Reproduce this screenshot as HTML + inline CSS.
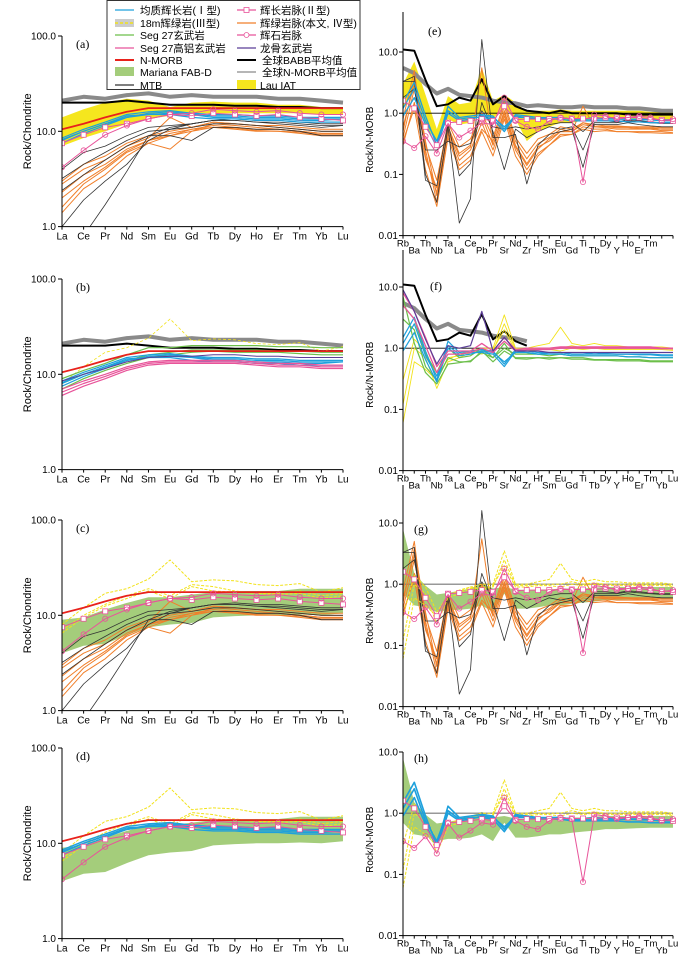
<!DOCTYPE html>
<html><head><meta charset="utf-8">
<style>
html,body{margin:0;padding:0;background:#fff;}
svg{display:block;font-family:"Liberation Sans","Noto Sans CJK SC",sans-serif;}
</style></head>
<body>
<svg id="fig" width="700" height="956" viewBox="0 0 700 956" xmlns="http://www.w3.org/2000/svg"></svg>
<script>
const reeLabels=["La","Ce","Pr","Nd","Sm","Eu","Gd","Tb","Dy","Ho","Er","Tm","Yb","Lu"];
const spLabels=["Rb","Ba","Th","Nb","Ta","La","Ce","Pb","Pr","Sr","Nd","Zr","Hf","Sm","Eu","Gd","Ti","Tb","Dy","Y","Ho","Er","Tm","Yb","Lu"];
const leftTicks=[100,10,1];
const leftTickLabels=["100.0","10.0","1.0"];
const rightTicks=[10,1,0.1,0.01];
const rightTickLabels=["10.0","1.0","0.1","0.01"];

// REE chondrite-normalised
const ree_nmorbAvg=[21,23,22,24,25,23,24,23,23,23,22,22,21,20];
const ree_babb=[20,20,20,21,20,19,19,19,18.5,18.5,18,18,17.5,17.5];
const ree_nmorb=[10.5,12,14,16,17.5,17.5,17.5,17.5,17.5,17.5,17.5,17.5,17.5,17.5];
const ree_lauHi=[14,17,20,22,21,18,20,20.5,20,20,19,19,18,18];
const ree_lauLo=[7,8.5,10,12,13.5,14.5,15.5,15.5,15.5,15.5,15.5,15.5,15,15];
const ree_marHi=[9,9.5,11.5,13.5,15.5,15.5,16.5,17.5,18,18,18,19,19,19];
const ree_marLo=[4,4.8,5,6.2,7.5,8,8.3,9.5,9.8,10,10,10.2,10,10.5];
const ree_gab1=[8.5,10.5,12.5,15,16,16.5,15.5,15,15,14.5,14.5,14,14,14];
const ree_gab2=[8,10,12,14.5,15,15.5,15,14,14,13.5,13.5,13,13,13.5];
const ree_gab3=[7.5,9.5,11.5,14,15,15,14,13.5,13.5,13,13,12.5,12.5,12.5];
const ree_gab4=[8.2,10,12,14,15.5,16,15.2,14.5,14.5,14,14,13.5,13.5,13.5];
const ree_gabDyke=[7.5,9.2,11,12,13.5,15,14.5,15.5,15,14.5,15,14,13.5,13];
const ree_pyrDyke=[4.2,6.3,9.2,11.5,13.5,15,15.5,17,16.5,16,16.5,15.5,15,15];
const ree_dia1=[3,4.5,5.5,7.5,9,10,11,12.5,12,11.5,11.5,11,10.5,10.5];
const ree_dia2=[2.3,3.5,4.5,6.5,8,9.5,10.5,11.5,11,10.5,10.5,10,9.5,9.5];
const ree_dia3=[1.6,2.8,4,6,7.5,9,10,11,10.5,10,10,9.5,9,9];
const ree_dia4=[1.4,2.5,3.5,5.5,7.5,6.5,10,12,11.5,11,10.5,10,9.5,9.5];
const ree_dia5=[2.8,4,5,7,8.5,14,11,12.5,12,11.5,11,10.5,10,10];
const ree_dia6=[2,3,4.2,6.2,8,9,10.5,11,10.8,10.2,10,9.8,9.2,9.2];
const ree_mtb1=[4,6,7,9,11,11.5,12,13,13,12.5,12,11.5,11,11.5];
const ree_mtb2=[3.2,4.5,6,8,10,10.5,11,12,12,11.5,11,10.5,10,10];
const ree_mtb3=[2.4,3.5,5,7,9,9,8,11,11,10.5,10.5,10,9,9];
const ree_mtb4=[1,1.9,3,4.5,8,10.5,12,13,13.5,13,13,12.5,12,12];
const ree_mtb5=[0.5,0.8,1.7,3.8,9,11,12,13,13,12.5,12.5,12,11.5,11.5];
const ree_seg1=[9,11,13,16,19,19,20,20,20,20,19.5,19.5,19,19];
const ree_seg2=[8,10,12,14,16,17,18,18,18,18,17.5,17.5,17,17];
const ree_seg3=[7,9,11,13,15,16,17,17.5,17,17,17,16.5,16,16];
const ree_hal1=[7,8.5,10,12,13.5,14,14,14,14,13.5,13,13,12.5,12.5];
const ree_hal2=[6,7.5,9,11,12.5,13,13,13,13,12.5,12,12,11.5,11.5];
const ree_hal3=[6.5,8,9.5,11.5,13,13.5,13.5,13.5,13.5,13,12.5,12.5,12,12];
const ree_lg=[8.5,10,11.5,13.5,15,15.5,15.5,16,16,15.5,15.5,15,15,15];
const ree_yelA=[8,12,17,19,24,38,22.5,23.5,23,21,20.5,21.5,17.5,19.5];
const ree_yelB=[7,10,13,16,19,16,21,20,18,17,17,18,16,17];
const ree_yelC=[6.5,9.5,12.5,15,18,15,20,18,17.5,17,16.5,17,15,16];

// N-MORB normalised spider
const sp_nmorbAvg=[5.5,4.5,3,2.1,2.5,2,1.9,1.8,1.6,1.5,1.45,1.3,1.35,1.3,1.25,1.25,1.3,1.25,1.25,1.25,1.2,1.2,1.15,1.1,1.1];
const sp_babb=[11,10.5,3.5,1.3,1.4,1.8,1.6,3.6,1.4,1.9,1.3,1.1,1.05,1.0,1.1,1.0,1.0,1.0,1.0,1.0,0.95,0.95,0.95,0.95,0.95];
const sp_lauHi=[3,7,2,0.55,1.9,1.4,1.5,5.5,1.6,2,1.5,1.05,1.1,1.1,1.15,1.1,1.1,1.1,1.1,1.1,1.1,1.1,1.05,1.05,1.05];
const sp_lauLo=[1.2,2.5,0.6,0.35,0.8,0.65,0.7,1.1,0.8,1.3,0.8,0.35,0.5,0.6,0.7,0.7,0.75,0.8,0.8,0.8,0.8,0.8,0.8,0.8,0.8];
const sp_marHi=[8,1.5,0.95,0.68,0.72,0.78,0.85,1.05,0.85,0.9,0.82,0.8,0.82,0.82,0.85,0.85,0.85,0.88,0.9,0.9,0.9,0.9,0.9,0.9,0.9];
const sp_marLo=[0.7,0.45,0.42,0.35,0.38,0.38,0.4,0.45,0.35,0.7,0.4,0.4,0.42,0.45,0.45,0.48,0.5,0.52,0.55,0.55,0.56,0.57,0.58,0.58,0.58];
const sp_gab1=[1.5,3.2,0.9,0.3,1.3,0.85,0.9,0.95,0.9,0.55,0.95,0.9,0.85,0.85,0.85,0.8,0.8,0.8,0.8,0.8,0.8,0.78,0.78,0.75,0.75];
const sp_gab2=[1.2,2.5,0.75,0.35,1.1,0.8,0.85,0.85,0.8,0.5,0.9,0.85,0.8,0.8,0.8,0.75,0.75,0.75,0.75,0.75,0.72,0.72,0.7,0.7,0.7];
const sp_gab3=[0.9,1.8,0.65,0.28,1.0,0.75,0.8,0.9,0.85,0.6,0.85,0.85,0.8,0.85,0.85,0.8,0.8,0.85,0.82,0.8,0.8,0.8,0.8,0.78,0.78];
const sp_gabDyke=[1.6,1.2,0.6,0.3,0.7,0.72,0.75,0.8,0.75,1.3,0.78,0.8,0.8,0.8,0.82,0.82,0.82,0.82,0.85,0.85,0.85,0.85,0.8,0.78,0.75];
const sp_pyr=[0.35,0.27,0.42,0.22,0.68,0.4,0.52,0.7,0.65,1.8,0.75,0.6,0.55,0.75,0.85,0.8,0.075,0.95,0.9,0.8,0.85,0.9,0.85,0.75,0.8];
const sp_dia1=[0.5,3.8,0.35,0.045,0.6,0.22,0.3,0.9,0.3,1.1,0.3,0.15,0.28,0.35,0.5,0.5,0.7,0.6,0.58,0.55,0.55,0.55,0.55,0.52,0.52];
const sp_dia2=[0.4,2.5,0.25,0.035,0.5,0.17,0.25,0.7,0.25,0.9,0.25,0.12,0.22,0.3,0.45,0.45,0.6,0.55,0.55,0.5,0.5,0.5,0.5,0.5,0.48];
const sp_dia3=[0.3,1.5,0.18,0.06,0.45,0.14,0.2,0.55,0.35,1.3,0.35,0.18,0.32,0.4,0.55,0.5,1.3,0.6,0.6,0.6,0.6,0.58,0.58,0.55,0.55];
const sp_dia4=[0.6,3,0.3,0.08,0.7,0.28,0.38,1.0,0.4,1.5,0.4,0.22,0.38,0.45,0.6,0.55,0.7,0.65,0.62,0.62,0.6,0.6,0.6,0.58,0.58];
const sp_dia5=[0.35,1.2,0.12,0.03,0.4,0.12,0.17,0.5,0.2,0.8,0.2,0.1,0.2,0.3,0.42,0.45,0.55,0.5,0.52,0.5,0.5,0.48,0.48,0.47,0.47];
const sp_dia6=[0.8,5,0.2,0.05,0.55,0.2,0.28,5.5,0.3,1.0,0.28,0.14,0.26,0.38,0.5,0.5,0.65,0.6,0.6,0.58,0.58,0.56,0.56,0.55,0.55];
const sp_mtb1=[3.3,3.3,0.08,0.065,0.7,0.095,0.15,1.5,0.5,0.12,0.55,0.4,0.5,0.6,0.55,0.6,0.25,0.7,0.7,0.7,0.75,0.72,0.7,0.68,0.68];
const sp_mtb2=[3.3,4,0.1,0.035,0.6,0.016,0.04,16,0.4,0.4,0.45,0.07,0.3,0.45,0.5,0.55,0.13,0.65,0.65,0.65,0.7,0.65,0.62,0.6,0.6];
const sp_mtb3=[1.8,2.5,0.25,0.25,0.35,0.28,0.32,1.1,0.6,0.55,0.6,0.55,0.6,0.65,0.7,0.7,0.5,0.75,0.75,0.72,0.78,0.75,0.72,0.7,0.7];
const sp_seg1=[5,3,0.8,0.4,1.0,0.7,0.75,1.0,0.7,1.0,0.8,0.8,0.8,0.75,0.8,0.75,0.75,0.75,0.75,0.75,0.72,0.72,0.7,0.7,0.7];
const sp_seg2=[3,2,0.5,0.3,0.7,0.6,0.6,0.9,0.6,0.9,0.7,0.7,0.7,0.7,0.7,0.7,0.7,0.65,0.65,0.65,0.65,0.65,0.62,0.62,0.62];
const sp_seg3=[7,1.2,0.4,0.26,0.55,0.58,0.62,0.85,0.7,1.2,0.68,0.66,0.7,0.66,0.7,0.66,0.66,0.64,0.64,0.62,0.62,0.62,0.6,0.6,0.6];
const sp_hal1=[8,4,1.5,0.5,0.9,0.9,0.9,1.2,0.9,1.5,0.95,1.0,1.0,1.0,1.05,1.05,1.05,1.05,1.05,1.05,1.05,1.05,1.05,1.0,1.0];
const sp_hal2=[5,3,1.1,0.4,0.8,0.8,0.85,1.0,0.85,1.3,0.9,0.95,0.95,0.95,1.0,1.0,1.0,1.0,1.0,1.0,1.0,1.0,1.0,0.98,0.98];
const sp_lg=[9,4,1.4,0.55,1.1,1.0,1.1,4,0.9,1.5,0.9,0.9,0.9,0.85,0.85,0.85,0.85,0.85,0.85,0.85,0.85,0.85,0.85,0.85,0.85];
const sp_yel1=[0.06,0.6,0.45,0.3,0.7,0.75,0.9,1.0,1.0,3.5,1.0,1.0,1.1,1.2,2.2,1.2,1.1,1.2,1.1,1.1,1.05,1.05,1.05,1.05,1.0];
const sp_yel2=[0.12,1.0,0.7,0.22,0.6,0.7,0.85,0.9,0.9,2.5,0.95,0.95,1.0,1.0,1.0,1.1,1.0,1.05,1.0,1.0,1.0,1.0,1.0,1.0,0.95];
const sp_yel3=[0.3,1.4,0.9,0.35,0.65,0.8,0.9,0.8,0.95,2,0.9,0.9,0.95,0.95,0.9,1.0,0.95,1.0,0.95,0.95,0.95,0.95,0.95,0.95,0.92];

const C={gray:"#8a8a8a",black:"#000",red:"#e8221c",blue:"#1ea0dc",pink:"#e8549a",orange:"#f07f2a",green:"#6cbf4a",mar:"#a4cd7b",lau:"#f5e61e",yel:"#f2e21a",purple:"#5b3d96",mtb:"#333"};

const NS="http://www.w3.org/2000/svg";
const svg=document.getElementById('fig');
function mk(tag,attrs,parent){const e=document.createElementNS(NS,tag);for(const k in attrs)e.setAttribute(k,attrs[k]);(parent||svg).appendChild(e);return e;}

const leftPanels=[{id:"a",top:36},{id:"b",top:279},{id:"c",top:520},{id:"d",top:748}];
const rightPanels=[{id:"e",top:52,axTop:12},{id:"f",top:287,axTop:250},{id:"g",top:523,axTop:485},{id:"h",top:752,axTop:752}];
const LX0=62,LX1=343,RX0=403,RX1=673,LDEC=95.3,RDEC=61.2;

function makeLeft(p){
  const xs=i=>LX0+i*(LX1-LX0)/13;
  const ys=v=>p.top+(2-Math.log10(v))*LDEC;
  const g=mk('g',{});
  
  
  const cp=mk('clipPath',{id:'clip'+p.id},g);
  mk('rect',{x:LX0,y:p.top-5,width:LX1-LX0+4,height:2*LDEC+5},cp);
  const plot=mk('g',{'clip-path':'url(#clip'+p.id+')'},g);
  return {g,plot,xs,ys,n:14,bottom:ys(1)};
}
function makeRight(p){
  const xs=i=>RX0+i*(RX1-RX0)/24;
  const ys=v=>p.top+(1-Math.log10(v))*RDEC;
  const g=mk('g',{});
  
  
  const cp=mk('clipPath',{id:'clip'+p.id},g);
  mk('rect',{x:RX0,y:p.axTop-2,width:RX1-RX0+6,height:ys(0.01)-p.axTop+2},cp);
  const plot=mk('g',{'clip-path':'url(#clip'+p.id+')'},g);
  return {g,plot,xs,ys,n:25,bottom:ys(0.01)};
}
function band(P,hi,lo,color,name){
  let d="";
  hi.forEach((v,i)=>{d+=(i?"L":"M")+P.xs(i).toFixed(1)+","+P.ys(v).toFixed(1);});
  for(let i=lo.length-1;i>=0;i--)d+="L"+P.xs(i).toFixed(1)+","+P.ys(lo[i]).toFixed(1);
  const e=mk('path',{d:d+"Z",fill:color,stroke:"none"},P.plot);
  
  
}
function line(P,arr,color,w,name,opt){
  opt=opt||{};
  const n=opt.n||arr.length;
  let d="";
  for(let i=0;i<n;i++)d+=(i?"L":"M")+P.xs(i).toFixed(1)+","+P.ys(arr[i]).toFixed(1);
  const at={d:d,fill:"none",stroke:color,"stroke-width":w,"stroke-linejoin":"round"};
  if(opt.dash)at["stroke-dasharray"]=opt.dash;
  const e=mk('path',at,P.plot);
  
  
  if(opt.marker){
    for(let i=0;i<n;i++){
      let m;
      if(opt.marker==="sq")m=mk('rect',{x:P.xs(i)-2.5,y:P.ys(arr[i])-2.5,width:5,height:5,fill:"#fff",stroke:color,"stroke-width":0.8},P.plot);
      else m=mk('circle',{cx:P.xs(i),cy:P.ys(arr[i]),r:2.6,fill:"none",stroke:color,"stroke-width":0.8},P.plot);
      
      
    }
  }
}
function hline(P,v,color,w){
  const e=mk('line',{x1:RX0,x2:RX1,y1:P.ys(v),y2:P.ys(v),stroke:color,"stroke-width":w},P.plot);
  
  
}
function axesLeft(P,p){
  const g=P.g;
  mk('line',{x1:LX0,x2:LX0,y1:p.top,y2:P.bottom,stroke:"#000","stroke-width":1},g);
  mk('line',{x1:LX0,x2:LX1,y1:P.bottom,y2:P.bottom,stroke:"#000","stroke-width":1},g);
  leftTicks.forEach((v,i)=>{
    mk('line',{x1:LX0-4,x2:LX0,y1:P.ys(v),y2:P.ys(v),stroke:"#000"},g);
    const t=mk('text',{x:LX0-6,y:P.ys(v)+3.5,"font-size":10,"text-anchor":"end"},g);t.textContent=leftTickLabels[i];
    
    
  });
  reeLabels.forEach((l,i)=>{
    mk('line',{x1:P.xs(i),x2:P.xs(i),y1:P.bottom,y2:P.bottom+3,stroke:"#000"},g);
    const t=mk('text',{x:P.xs(i),y:P.bottom+13,"font-size":10,"text-anchor":"middle"},g);t.textContent=l;
    
    
  });
  const yt=mk('text',{x:31,y:(p.top+P.bottom)/2,"font-size":11,"text-anchor":"middle",transform:"rotate(-90 31 "+((p.top+P.bottom)/2)+")"},g);
  yt.textContent="Rock/Chondrite";
  
  
  const lab=mk('text',{x:76,y:p.top+12,"font-size":12,"font-family":"Liberation Serif, serif"},g);lab.textContent="("+p.id+")";
  
  
}
function axesRight(P,p,nLab){
  const g=P.g;
  mk('line',{x1:RX0,x2:RX0,y1:p.axTop,y2:P.bottom,stroke:"#000","stroke-width":1},g);
  mk('line',{x1:RX0,x2:RX1,y1:P.bottom,y2:P.bottom,stroke:"#000","stroke-width":1},g);
  rightTicks.forEach((v,i)=>{
    mk('line',{x1:RX0-4,x2:RX0,y1:P.ys(v),y2:P.ys(v),stroke:"#000"},g);
    const t=mk('text',{x:RX0-5,y:P.ys(v)+3.5,"font-size":10,"text-anchor":"end"},g);t.textContent=rightTickLabels[i];
    
    
  });
  spLabels.forEach((l,i)=>{
    mk('line',{x1:P.xs(i),x2:P.xs(i),y1:P.bottom,y2:P.bottom+3,stroke:"#000"},g);
    if(i>=nLab)return;
    const t=mk('text',{x:P.xs(i),y:P.bottom+(i%2?18:11),"font-size":9.5,"text-anchor":"middle"},g);t.textContent=l;
    
    
  });
  const cy=(p.top-8+P.bottom)/2;
  const yt=mk('text',{x:373,y:cy,"font-size":10,"text-anchor":"middle",transform:"rotate(-90 373 "+cy+")"},g);
  yt.textContent="Rock/N-MORB";
  
  
  const lab=mk('text',{x:428,y:p.top-17,"font-size":12,"font-family":"Liberation Serif, serif"},g);lab.textContent="("+p.id+")";
  if(p.id==="h"||p.id==="g"){lab.setAttribute('x',414);lab.setAttribute('y',p.top+10);}
  if(p.id==="f"){lab.setAttribute('x',430);lab.setAttribute('y',p.top+3);}
  
  
}

const diaR=[ree_dia1,ree_dia2,ree_dia3,ree_dia4,ree_dia5,ree_dia6];
const mtbR=[ree_mtb1,ree_mtb2,ree_mtb3,ree_mtb4,ree_mtb5];
const gabR=[ree_gab1,ree_gab2,ree_gab3,ree_gab4];
const diaS=[sp_dia1,sp_dia2,sp_dia3,sp_dia4,sp_dia5,sp_dia6];
const mtbS=[sp_mtb1,sp_mtb2,sp_mtb3];
const gabS=[sp_gab1,sp_gab2,sp_gab3];

// (a)
let P=makeLeft(leftPanels[0]);
band(P,ree_lauHi,ree_lauLo,C.lau,'lau-iat-band');
line(P,ree_nmorbAvg,C.gray,4,'global-nmorb-avg');
line(P,ree_babb,C.black,2,'global-babb-avg');
line(P,ree_nmorb,C.red,1.8,'nmorb-line');
diaR.forEach(a=>line(P,a,C.orange,1,'diabase-dyke-line'));
mtbR.forEach(a=>line(P,a,C.mtb,0.8,'mtb-line'));
gabR.forEach(a=>line(P,a,C.blue,1.2,'gabbro-line'));
line(P,ree_gabDyke,C.pink,1,'gabbro-dyke-line',{marker:'sq'});
line(P,ree_pyrDyke,C.pink,1,'pyroxenite-dyke-line',{marker:'ci'});
axesLeft(P,leftPanels[0]);
// (b)
P=makeLeft(leftPanels[1]);
line(P,ree_nmorbAvg,C.gray,4,'global-nmorb-avg');
line(P,ree_babb,C.black,2,'global-babb-avg');
line(P,ree_yelA,C.yel,0.8,'diabase-18m-line',{dash:'3,2'});
[ree_seg1,ree_seg2,ree_seg3].forEach(a=>line(P,a,C.green,1.2,'seg27-basalt-line'));
line(P,ree_nmorb,C.red,1.8,'nmorb-line');
gabR.forEach(a=>line(P,a,C.blue,1.2,'gabbro-line'));
line(P,ree_lg,C.purple,1,'longgu-basalt-line');
[ree_hal1,ree_hal2,ree_hal3].forEach(a=>line(P,a,C.pink,1.2,'seg27-high-al-line'));
axesLeft(P,leftPanels[1]);
// (c)
P=makeLeft(leftPanels[2]);
band(P,ree_marHi,ree_marLo,C.mar,'mariana-fab-band');
diaR.forEach(a=>line(P,a,C.orange,1,'diabase-dyke-line'));
mtbR.forEach(a=>line(P,a,C.mtb,0.8,'mtb-line'));
[ree_yelA,ree_yelB,ree_yelC].forEach(a=>line(P,a,C.yel,1,'diabase-18m-line',{dash:'3,1.5'}));
line(P,ree_nmorb,C.red,1.8,'nmorb-line');
line(P,ree_gabDyke,C.pink,1,'gabbro-dyke-line',{marker:'sq'});
line(P,ree_pyrDyke,C.pink,1,'pyroxenite-dyke-line',{marker:'ci'});
axesLeft(P,leftPanels[2]);
// (d)
P=makeLeft(leftPanels[3]);
band(P,ree_marHi,ree_marLo,C.mar,'mariana-fab-band');
[ree_yelA,ree_yelB,ree_yelC].forEach(a=>line(P,a,C.yel,1,'diabase-18m-line',{dash:'3,1.5'}));
line(P,ree_nmorb,C.red,1.8,'nmorb-line');
gabR.forEach(a=>line(P,a,C.blue,1.4,'gabbro-line'));
line(P,ree_gabDyke,C.pink,1,'gabbro-dyke-line',{marker:'sq'});
line(P,ree_pyrDyke,C.pink,1,'pyroxenite-dyke-line',{marker:'ci'});
axesLeft(P,leftPanels[3]);

// (e)
P=makeRight(rightPanels[0]);
band(P,sp_lauHi,sp_lauLo,C.lau,'lau-iat-band');
hline(P,1,"#000",0.8);
line(P,sp_nmorbAvg,C.gray,4,'global-nmorb-avg');
line(P,sp_babb,C.black,2,'global-babb-avg');
diaS.forEach(a=>line(P,a,C.orange,1,'diabase-dyke-line'));
mtbS.forEach(a=>line(P,a,C.mtb,0.8,'mtb-line'));
gabS.forEach(a=>line(P,a,C.blue,1.3,'gabbro-line'));
line(P,sp_gabDyke,C.pink,1,'gabbro-dyke-line',{marker:'sq'});
line(P,sp_pyr,C.pink,1,'pyroxenite-dyke-line',{marker:'ci'});
axesRight(P,rightPanels[0],23);
// (f)
P=makeRight(rightPanels[1]);
hline(P,1,"#000",0.8);
line(P,sp_nmorbAvg,C.gray,4,'global-nmorb-avg',{n:12});
line(P,sp_babb,C.black,2,'global-babb-avg',{n:12});
[sp_yel1,sp_yel2,sp_yel3].forEach(a=>line(P,a,C.yel,0.9,'diabase-18m-line'));
[sp_seg1,sp_seg2,sp_seg3].forEach(a=>line(P,a,C.green,1.2,'seg27-basalt-line'));
gabS.forEach(a=>line(P,a,C.blue,1.2,'gabbro-line'));
[sp_hal1,sp_hal2].forEach(a=>line(P,a,C.pink,1.3,'seg27-high-al-line'));
line(P,sp_lg,C.purple,1.2,'longgu-basalt-line');
axesRight(P,rightPanels[1],25);
// (g)
P=makeRight(rightPanels[2]);
band(P,sp_marHi,sp_marLo,C.mar,'mariana-fab-band');
hline(P,1,"#777",1.2);
diaS.forEach(a=>line(P,a,C.orange,1,'diabase-dyke-line'));
mtbS.forEach(a=>line(P,a,C.mtb,0.8,'mtb-line'));
[sp_yel1,sp_yel2,sp_yel3].forEach(a=>line(P,a,C.yel,1,'diabase-18m-line',{dash:'3,1.5'}));
line(P,sp_gabDyke,C.pink,1,'gabbro-dyke-line',{marker:'sq'});
line(P,sp_pyr,C.pink,1,'pyroxenite-dyke-line',{marker:'ci'});
axesRight(P,rightPanels[2],25);
// (h)
P=makeRight(rightPanels[3]);
band(P,sp_marHi,sp_marLo,C.mar,'mariana-fab-band');
hline(P,1,"#777",1.2);
[sp_yel1,sp_yel2,sp_yel3].forEach(a=>line(P,a,C.yel,1,'diabase-18m-line',{dash:'3,1.5'}));
gabS.forEach(a=>line(P,a,C.blue,1.6,'gabbro-line'));
line(P,sp_gabDyke,C.pink,1,'gabbro-dyke-line',{marker:'sq'});
line(P,sp_pyr,C.pink,1,'pyroxenite-dyke-line',{marker:'ci'});
axesRight(P,rightPanels[3],25);

// legend
const lg=mk('g',{});


mk('rect',{x:107,y:0.5,width:253,height:89,fill:"#fff",stroke:"#333","stroke-width":1},lg);
const legendItems=[
 [0,0,"均质辉长岩(Ⅰ型)",'line',C.blue],
 [0,1,"18m辉绿岩(Ⅲ型)",'dash',C.yel],
 [0,2,"Seg 27玄武岩",'line',C.green],
 [0,3,"Seg 27高铝玄武岩",'line',C.pink],
 [0,4,"N-MORB",'thick',C.red],
 [0,5,"Mariana FAB-D",'box',C.mar],
 [0,6,"MTB",'line',C.mtb],
 [1,0,"辉长岩脉(Ⅱ型)",'sq',C.pink],
 [1,1,"辉绿岩脉(本文, Ⅳ型)",'line',C.orange],
 [1,2,"辉石岩脉",'ci',C.pink],
 [1,3,"龙骨玄武岩",'line',C.purple],
 [1,4,"全球BABB平均值",'thick',C.black],
 [1,5,"全球N-MORB平均值",'line',C.gray],
 [1,6,"Lau IAT",'box',C.lau]];
const rowY=[10,23,35,48,60,72,85];
legendItems.forEach(it=>{
  const sx=it[0]?237:115, y=rowY[it[1]];
  const e=mk('g',{},lg);
  
  
  if(it[3]==='box')mk('rect',{x:sx,y:y-5,width:19,height:9,fill:it[4]},e);
  else if(it[3]==='dash'){mk('rect',{x:sx,y:y-4,width:19,height:8,fill:"#ccc"},e);mk('line',{x1:sx,x2:sx+19,y1:y,y2:y,stroke:it[4],"stroke-width":1.5,"stroke-dasharray":"3,2"},e);}
  else{
    mk('line',{x1:sx,x2:sx+19,y1:y,y2:y,stroke:it[4],"stroke-width":it[3]==='thick'?2:1.2},e);
    if(it[3]==='sq')mk('rect',{x:sx+7,y:y-2.5,width:5,height:5,fill:"#fff",stroke:it[4],"stroke-width":0.8},e);
    if(it[3]==='ci')mk('circle',{cx:sx+9.5,cy:y,r:2.5,fill:"#fff",stroke:it[4],"stroke-width":0.8},e);
  }
  const t=mk('text',{x:it[0]?(it[3]==='thick'||it[2].indexOf('全球')===0?262:260):140,y:y+4,"font-size":10.5},e);
  t.textContent=it[2];
});
</script>
</body></html>
